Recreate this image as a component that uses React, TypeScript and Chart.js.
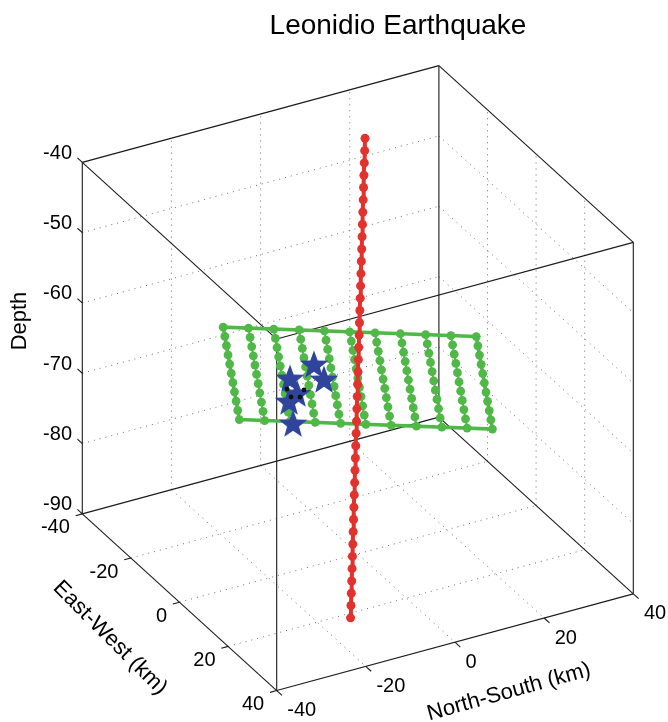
import React, { useEffect, useRef } from "react";
import { Chart, registerables } from "chart.js";

Chart.register(...registerables);

const CANVAS_W = 668;
const CANVAS_H = 722;

const TITLE = "Leonidio Earthquake";
const NS_LABEL = "North-South (km)";
const EW_LABEL = "East-West (km)";
const DEPTH_LABEL = "Depth";

// Axis limits and ticks (km)
const nsTicks = [-40, -20, 0, 20, 40];
const ewTicks = [-40, -20, 0, 20, 40];
const depthTicks = [-90, -80, -70, -60, -50, -40];

// Fault model: centre (NS, EW, depth), orientation and sampling grid on the plane
const faultCentre = [0, 0, -65];
const faultStrikeDeg = 213;
const faultDipDeg = 34;
const alongStrikeKm = [-25, -20, -15, -10, -5, 0, 5, 10, 15, 20, 25];
const downDipKm = [-25, -20, -15, -10, -5, 0, 5, 10, 15, 20, 25];

// Samples along the fault-plane normal through the centre (km)
const normalKm = [
  -33.15, -31.45, -29.75, -28.05, -26.35, -24.65, -22.95, -21.25, -19.55, -17.85,
  -16.15, -14.45, -12.75, -11.05, -9.35, -7.65, -5.95, -4.25, -2.55, -0.85,
  0.85, 2.55, 4.25, 5.95, 7.65, 9.35, 11.05, 12.75, 14.45, 16.15,
  17.85, 19.55, 21.25, 22.95, 24.65, 26.35, 28.05, 29.75, 31.45, 33.15,
];

// Hypocentres (stars)
const starNS = [-9.96, -5.13, -10.71, -6.35, -5.88, -0.48];
const starEW = [0.24, -4.5, -8.26, -13.36, -17.52, -25.78];
const starDepth = [-61.2, -65.66, -65.74, -70.23, -72.75, -79.41];

// Small events (black dots)
const dotNS = [-8.8, -6.43, -5.01, -5.9];
const dotEW = [-13.0, -15.69, -14.59, -11.32];
const dotDepth = [-69.12, -71.51, -71.41, -69.23];

// Orthographic view: screen displacement per km along each axis
const VIEW = {
  originX: 357.8,
  originY: 378.1,
  depthRef: -65,
  nsX: 4.4575,
  nsY: -1.209,
  ewX: 2.43,
  ewY: 2.209,
  depthY: 7.03,
};

const COLORS = {
  box: "#1a1a1a",
  grid: "#6d6d6d",
  fault: "#4fb847",
  normal: "#e2322e",
  star: "#2f449a",
  dot: "#111111",
  text: "#000000",
};

const FONT = '"Liberation Sans", Arial, Helvetica, sans-serif';

type Pt = { x: number; y: number };

function project(ns: number, ew: number, depth: number): Pt {
  return {
    x: VIEW.originX + ns * VIEW.nsX + ew * VIEW.ewX,
    y: VIEW.originY + ns * VIEW.nsY + ew * VIEW.ewY - (depth - VIEW.depthRef) * VIEW.depthY,
  };
}

const rad = (d: number) => (d * Math.PI) / 180;

// Unit vectors of the fault plane in (NS, EW, depth)
const strikeVec = [Math.cos(rad(faultStrikeDeg)), Math.sin(rad(faultStrikeDeg)), 0];
const dipAz = faultStrikeDeg + 90;
const dipVec = [
  Math.cos(rad(dipAz)) * Math.cos(rad(faultDipDeg)),
  Math.sin(rad(dipAz)) * Math.cos(rad(faultDipDeg)),
  -Math.sin(rad(faultDipDeg)),
];
const normalVec = [
  strikeVec[1] * dipVec[2] - strikeVec[2] * dipVec[1],
  strikeVec[2] * dipVec[0] - strikeVec[0] * dipVec[2],
  strikeVec[0] * dipVec[1] - strikeVec[1] * dipVec[0],
];

function faultPoint(s: number, d: number): Pt {
  return project(
    faultCentre[0] + s * strikeVec[0] + d * dipVec[0],
    faultCentre[1] + s * strikeVec[1] + d * dipVec[1],
    faultCentre[2] + s * strikeVec[2] + d * dipVec[2]
  );
}

const nsMin = nsTicks[0];
const nsMax = nsTicks[nsTicks.length - 1];
const ewMin = ewTicks[0];
const ewMax = ewTicks[ewTicks.length - 1];
const zMin = depthTicks[0];
const zMax = depthTicks[depthTicks.length - 1];

// tick mark lengths, expressed along the axis they point into (km)
const DEPTH_TICK_EW = -2.0;
const EW_TICK_NS = -1.5;
const NS_TICK_EW = 2.2;

function lineSet(points: Pt[], color: string, width: number, dash: number[], order: number) {
  return {
    data: points,
    showLine: true,
    borderColor: color,
    backgroundColor: color,
    borderWidth: width,
    borderDash: dash,
    pointRadius: 0,
    pointHoverRadius: 0,
    tension: 0,
    fill: false,
    clip: false as const,
    order,
  };
}

function makePentagram(r: number, color: string): HTMLCanvasElement {
  const size = Math.ceil(2 * r + 2);
  const c = document.createElement("canvas");
  c.width = size;
  c.height = size;
  const g = c.getContext("2d")!;
  const cx = size / 2;
  const cy = size / 2 + r * 0.1;
  const inner = r * 0.42;
  g.beginPath();
  for (let i = 0; i < 10; i++) {
    const a = -Math.PI / 2 + (i * Math.PI) / 5;
    const rr = i % 2 === 0 ? r : inner;
    const x = cx + rr * Math.cos(a);
    const y = cy + rr * Math.sin(a);
    if (i === 0) g.moveTo(x, y);
    else g.lineTo(x, y);
  }
  g.closePath();
  g.fillStyle = color;
  g.fill();
  return c;
}

function buildDatasets() {
  const ds: any[] = [];

  // dotted grid on the three back faces
  const innerNS = nsTicks.slice(1, -1);
  const innerEW = ewTicks.slice(1, -1);
  const innerZ = depthTicks.slice(1, -1);
  const gridDash = [1, 5];
  innerNS.forEach((ns) => {
    ds.push(lineSet([project(ns, ewMin, zMin), project(ns, ewMin, zMax)], COLORS.grid, 1, gridDash, 6));
    ds.push(lineSet([project(ns, ewMin, zMin), project(ns, ewMax, zMin)], COLORS.grid, 1, gridDash, 6));
  });
  innerEW.forEach((ew) => {
    ds.push(lineSet([project(nsMax, ew, zMin), project(nsMax, ew, zMax)], COLORS.grid, 1, gridDash, 6));
    ds.push(lineSet([project(nsMin, ew, zMin), project(nsMax, ew, zMin)], COLORS.grid, 1, gridDash, 6));
  });
  innerZ.forEach((z) => {
    ds.push(lineSet([project(nsMin, ewMin, z), project(nsMax, ewMin, z)], COLORS.grid, 1, gridDash, 6));
    ds.push(lineSet([project(nsMax, ewMin, z), project(nsMax, ewMax, z)], COLORS.grid, 1, gridDash, 6));
  });

  // box edges
  const corners = [
    [nsMin, ewMin],
    [nsMin, ewMax],
    [nsMax, ewMax],
    [nsMax, ewMin],
  ];
  corners.forEach(([ns, ew], i) => {
    const [ns2, ew2] = corners[(i + 1) % 4];
    ds.push(lineSet([project(ns, ew, zMin), project(ns, ew, zMax)], COLORS.box, 1.1, [], 5));
    ds.push(lineSet([project(ns, ew, zMin), project(ns2, ew2, zMin)], COLORS.box, 1.1, [], 5));
    ds.push(lineSet([project(ns, ew, zMax), project(ns2, ew2, zMax)], COLORS.box, 1.1, [], 5));
  });

  // tick marks
  depthTicks.forEach((z) => {
    ds.push(lineSet([project(nsMin, ewMin, z), project(nsMin, ewMin + DEPTH_TICK_EW, z)], COLORS.box, 1.1, [], 5));
  });
  ewTicks.forEach((ew) => {
    ds.push(lineSet([project(nsMin, ew, zMin), project(nsMin + EW_TICK_NS, ew, zMin)], COLORS.box, 1.1, [], 5));
  });
  nsTicks.forEach((ns) => {
    ds.push(lineSet([project(ns, ewMax, zMin), project(ns, ewMax + NS_TICK_EW, zMin)], COLORS.box, 1.1, [], 5));
  });

  // fault outline
  const sA = alongStrikeKm[0];
  const sB = alongStrikeKm[alongStrikeKm.length - 1];
  const dA = downDipKm[0];
  const dB = downDipKm[downDipKm.length - 1];
  ds.push(
    lineSet(
      [faultPoint(sA, dA), faultPoint(sB, dA), faultPoint(sB, dB), faultPoint(sA, dB), faultPoint(sA, dA)],
      COLORS.fault,
      3.5,
      [],
      4
    )
  );

  // fault sampling columns (down-dip)
  alongStrikeKm.forEach((s) => {
    ds.push({
      ...lineSet(
        downDipKm.map((d) => faultPoint(s, d)),
        COLORS.fault,
        2,
        [],
        3
      ),
      pointRadius: 4.4,
      pointBorderWidth: 0,
      pointBackgroundColor: COLORS.fault,
    });
  });

  // hypocentres
  ds.push({
    data: starNS.map((ns, i) => project(ns, starEW[i], starDepth[i])),
    showLine: false,
    pointStyle: makePentagram(15, COLORS.star),
    pointRadius: 15,
    clip: false,
    order: 2,
  });

  // small events
  ds.push({
    data: dotNS.map((ns, i) => project(ns, dotEW[i], dotDepth[i])),
    showLine: false,
    pointRadius: 2.4,
    pointBorderWidth: 0,
    pointBackgroundColor: COLORS.dot,
    clip: false,
    order: 1,
  });

  // fault-plane normal
  ds.push({
    ...lineSet(
      normalKm.map((t) =>
        project(
          faultCentre[0] + t * normalVec[0],
          faultCentre[1] + t * normalVec[1],
          faultCentre[2] + t * normalVec[2]
        )
      ),
      COLORS.normal,
      4,
      [],
      0
    ),
    pointRadius: 4.5,
    pointBorderWidth: 0,
    pointBackgroundColor: COLORS.normal,
  });

  return ds;
}

const axisTextPlugin = {
  id: "axisText3d",
  afterDraw(chart: any) {
    const ctx: CanvasRenderingContext2D = chart.ctx;
    const sx = chart.scales.x;
    const sy = chart.scales.y;
    const toPx = (p: Pt) => ({ x: sx.getPixelForValue(p.x), y: sy.getPixelForValue(p.y) });

    ctx.save();
    ctx.fillStyle = COLORS.text;

    // title
    ctx.font = `28px ${FONT}`;
    ctx.textAlign = "center";
    ctx.textBaseline = "alphabetic";
    ctx.fillText(TITLE, 398, 33.5);

    // tick labels
    ctx.font = `20px ${FONT}`;
    ctx.textBaseline = "middle";
    ctx.textAlign = "right";
    depthTicks.forEach((z) => {
      const p = toPx(project(nsMin, ewMin, z));
      ctx.fillText(String(z), p.x - 10.3, p.y - 9);
    });
    ewTicks.forEach((ew) => {
      const p = toPx(project(nsMin, ew, zMin));
      ctx.fillText(String(ew), p.x - 12.5, p.y + 14);
    });
    ctx.textAlign = "left";
    nsTicks.forEach((ns) => {
      const p = toPx(project(ns, ewMax, zMin));
      ctx.fillText(String(ns), p.x + 10.6, p.y + 20);
    });

    // axis labels
    ctx.font = `22px ${FONT}`;
    ctx.textAlign = "center";
    ctx.textBaseline = "middle";
    const drawRot = (text: string, x: number, y: number, deg: number) => {
      ctx.save();
      ctx.translate(x, y);
      ctx.rotate(rad(deg));
      ctx.fillText(text, 0, 0);
      ctx.restore();
    };
    drawRot(DEPTH_LABEL, 20, 321, -90);
    drawRot(EW_LABEL, 110, 638, 45);
    drawRot(NS_LABEL, 509, 692, -15.5);

    ctx.restore();
  },
};

export default function App() {
  const canvasRef = useRef<HTMLCanvasElement | null>(null);

  useEffect(() => {
    if (!canvasRef.current) return;
    const chart = new Chart(canvasRef.current, {
      type: "scatter",
      data: { datasets: buildDatasets() },
      options: {
        animation: false,
        responsive: false,
        devicePixelRatio: 1,
        events: [],
        layout: { padding: 0, autoPadding: false },
        plugins: {
          legend: { display: false },
          tooltip: { enabled: false },
          title: { display: false },
        },
        scales: {
          x: { type: "linear", min: 0, max: CANVAS_W, display: false },
          y: { type: "linear", min: 0, max: CANVAS_H, reverse: true, display: false },
        },
      },
      plugins: [axisTextPlugin],
    } as any);
    return () => chart.destroy();
  }, []);

  return (
    <div style={{ position: "absolute", left: 0, top: 0, width: CANVAS_W, height: CANVAS_H, background: "#fff" }}>
      <canvas ref={canvasRef} width={CANVAS_W} height={CANVAS_H} style={{ display: "block", width: CANVAS_W, height: CANVAS_H }} />
    </div>
  );
}
